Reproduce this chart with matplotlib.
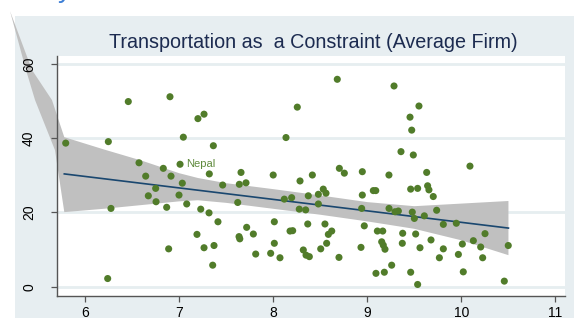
import matplotlib
matplotlib.use("Agg")
import matplotlib.pyplot as plt
from matplotlib.patches import Rectangle, Polygon

plt.rcParams['font.family'] = ['Liberation Sans', 'DejaVu Sans']

# ---- data ----
pts_x = [5.795, 6.248, 6.46, 6.903, 7.045, 7.20, 7.265, 7.364, 8.136, 8.256, 8.681, 9.284, 9.549, 9.454,
         9.472, 9.358, 9.489, 6.276, 6.241, 6.574, 6.645, 6.673, 6.751, 6.755, 6.832, 6.868, 6.889, 6.914,
         7.01, 6.999, 7.034, 7.081, 7.19, 7.23, 7.321, 7.463, 7.318, 7.265, 7.371, 7.357, 7.413, 7.658,
         7.64, 7.711, 7.623, 7.718, 7.637, 7.645, 7.789, 7.814, 8.0, 8.012, 8.012, 7.973, 8.072, 8.118,
         8.196, 8.179, 8.207, 8.285, 8.416, 8.277, 8.345, 8.373, 8.367, 8.32, 8.349, 8.384, 8.48, 8.532,
         8.561, 8.48, 8.55, 8.622, 8.586, 8.568, 8.505, 8.699, 8.703, 8.756, 8.947, 8.947, 8.94, 8.968,
         8.933, 9.064, 9.09, 9.107, 9.164, 9.153, 9.17, 9.092, 9.181, 9.23, 9.231, 10.091, 9.631, 9.461,
         9.535, 9.641, 9.655, 9.701, 9.294, 9.33, 9.478, 9.5, 9.606, 9.737, 9.808, 9.946, 9.376, 9.514,
         9.188, 9.372, 9.56, 9.677, 9.808, 9.766, 9.968, 10.01, 10.127, 10.251, 10.205, 10.226, 10.498,
         9.259, 9.461, 9.535, 10.02, 10.456]
pts_y = [38.7, 39.1, 49.9, 51.2, 40.3, 45.3, 46.5, 38.0, 40.2, 48.4, 55.9, 54.1, 48.7, 45.7,
         42.2, 36.4, 35.5, 21.1, 2.2, 33.4, 29.8, 24.5, 26.5, 22.9, 31.9, 21.4, 10.2, 29.8,
         33.0, 24.7, 27.9, 22.3, 14.1, 20.9, 30.4, 27.4, 19.9, 10.5, 11.1, 5.8, 17.5, 30.8,
         27.6, 28.0, 22.7, 16.0, 13.5, 12.9, 14.2, 8.8, 30.1, 17.5, 11.7, 9.0, 7.8, 23.6,
         24.0, 15.0, 15.1, 28.5, 30.1, 20.9, 20.7, 24.5, 16.9, 9.9, 8.5, 8.1, 24.9, 26.3,
         25.2, 22.3, 16.9, 15.0, 14.1, 11.7, 10.2, 7.9, 31.9, 30.6, 31.0, 24.7, 21.1, 16.4,
         10.6, 25.9, 25.9, 15.0, 15.0, 12.1, 11.2, 3.6, 3.9, 30.1, 21.1, 32.5, 30.8, 26.3,
         26.5, 27.2, 26.1, 24.3, 20.2, 20.4, 20.1, 18.4, 19.1, 20.6, 16.8, 17.1, 14.4, 14.2,
         10.1, 11.7, 10.5, 12.6, 10.2, 7.8, 8.7, 11.5, 12.4, 14.3, 10.7, 7.8, 11.1,
         5.8, 3.9, 0.6, 4.0, 1.5]

label_name = "Nepal"
label_x, label_y = 7.01, 33.0

fit_x = [5.78, 10.5]
fit_y = [30.4, 15.8]

band_x = [5.78, 6.2, 6.6, 7.0, 7.2, 7.5, 8.0, 8.5, 9.0, 9.5, 10.0, 10.5]
band_hi = [40.3, 37.0, 34.0, 30.6, 29.3, 27.9, 26.3, 24.6, 22.8, 21.7, 22.4, 23.1]
band_lo = [20.1, 21.0, 22.0, 23.0, 23.3, 22.6, 21.0, 19.4, 17.6, 15.6, 12.5, 8.5]

# spike of the band poking out to the upper left
spike_left_x = [5.203, 5.373, 5.469, 5.681]
spike_left_y = [74.3, 58.4, 50.3, 36.8]
spike_right_x = [5.649, 5.437]
spike_right_y = [50.3, 58.4]

title = "Transportation as  a Constraint (Average Firm)"
xticks = [6, 7, 8, 9, 10, 11]
yticks = [0, 20, 40, 60]
ytick_labels = ["0", "20", "40", "60"]

# ---- figure ----
W, H = 574, 318
fig = plt.figure(figsize=(W / 100, H / 100), dpi=100)
fig.patch.set_facecolor('white')

panel_col = '#e7eef1'
bg = fig.add_axes([15 / W, 0, 1 - 15 / W, 1 - 16 / H], zorder=0)
bg.set_axis_off()
bg.add_patch(Rectangle((0, 0), 1, 1, transform=bg.transAxes, facecolor=panel_col,
                       edgecolor='none'))

ax_w = 565 - 57
ax = fig.add_axes([57 / W, 1 - 296 / H, ax_w / W, (296 - 56) / H], zorder=1)
ax.set_facecolor('white')
ax.set_xlim(5.7024, 11.101)
ax.set_ylim(-2.507, 62.18)

for yv in yticks:
    ax.axhline(yv, color='#e6eef0', lw=2, zorder=1)

# band polygon (with spike)
poly = list(zip(spike_left_x, spike_left_y))
poly += list(zip(band_x, band_lo))
poly += list(zip(band_x[::-1], band_hi[::-1]))
poly += list(zip(spike_right_x, spike_right_y))
ax.add_patch(Polygon(poly, closed=True, facecolor='#c0c0c0', edgecolor='none',
                     zorder=1.5, clip_on=False))

ax.plot(fit_x, fit_y, color='#1a476f', lw=1.2, zorder=3)

ax.scatter(pts_x, pts_y, s=26, color='#517c2a', edgecolors='none', zorder=4)
ax.annotate(label_name, (label_x, label_y), xytext=(4.3, 0), textcoords='offset points',
            va='center', ha='left', fontsize=8, color='#5f8a3c', zorder=5)

for side in ['top', 'right']:
    ax.spines[side].set_visible(False)
for side in ['left', 'bottom']:
    ax.spines[side].set_color('#555555')
    ax.spines[side].set_linewidth(1.0)
    ax.spines[side].set_zorder(6)

ax.set_xticks(xticks)
ax.set_yticks(yticks)
ax.tick_params(axis='both', direction='out', length=4, width=0.9, color='#555555',
               labelsize=10, labelcolor='black')
ax.tick_params(axis='x', pad=3)
ax.tick_params(axis='y', labelleft=False)
ax.xaxis.set_zorder(6)
ax.yaxis.set_zorder(6)

# rotated y tick labels placed left of the axis (axes-x / data-y transform)
ytr = ax.get_yaxis_transform()
for yv, lab in zip(yticks, ytick_labels):
    ax.text((29 - 57) / ax_w, yv, lab, transform=ytr, rotation=90, ha='center', va='center',
            fontsize=10, color='black', clip_on=False, zorder=7)

fig.text(313 / W, 1 - 42 / H, title, ha='center', va='center', fontsize=14.2, color='#1c2b50')

# fragment of a heading cut off above the figure
fig.text(58 / W, 1 + 3 / H, "y", ha='left', va='baseline', fontsize=20, color='#3d7fd6')

fig.savefig('out.png', dpi=100)
